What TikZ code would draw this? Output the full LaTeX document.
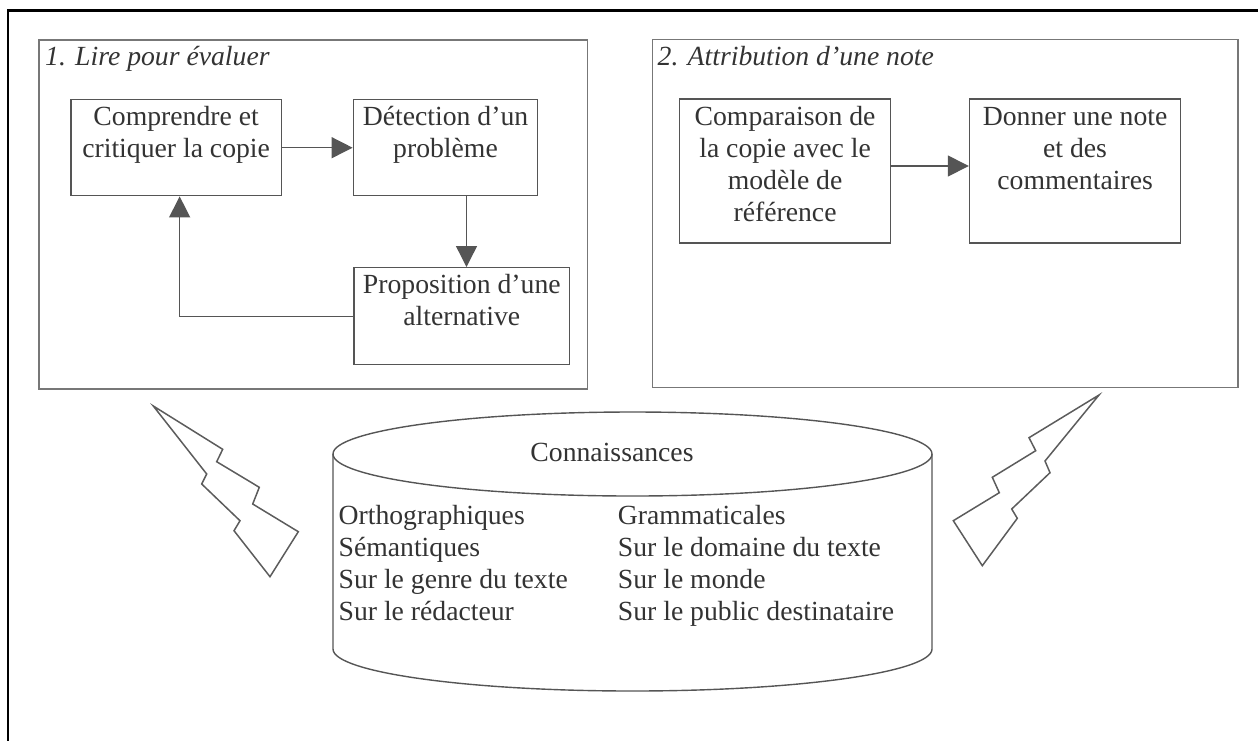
\documentclass[tikz,border=0pt]{standalone}
\usepackage{fontspec}
\setmainfont{Liberation Serif}
\usetikzlibrary{arrows.meta}
\definecolor{ink}{HTML}{333333}
\definecolor{boxline}{HTML}{555555}
\definecolor{panelline}{HTML}{777777}
\definecolor{boltline}{HTML}{5C5C5C}
% box content: width, height (pt), lines set from the top
\newcommand\stepcontent[3]{\parbox[t][#2pt][t]{#1pt}{\centering\rule{0pt}{26pt}#3}}

\begin{document}
\begin{tikzpicture}[x=1pt,y=-1pt,
  txt/.style={font=\fontsize{27.7pt}{32pt}\selectfont, text=ink},
  paneltitle/.style={font=\fontsize{27.7pt}{32pt}\selectfont\itshape, text=ink, anchor=base west, inner sep=0pt},
  panelframe/.style={draw=panelline, line width=1.4pt, inner sep=0pt, anchor=north west},
  stepbox/.style={txt, draw=boxline, line width=1.4pt, inner sep=0pt, anchor=north west},
  flow/.style={draw=boxline, line width=1.4pt, -{Triangle[length=21pt,width=21pt]}},
  cyl/.style={draw=boxline, line width=1.4pt},
  bolt/.style={draw=boltline, line width=1.5pt, line join=miter}]

\useasboundingbox (0,0) rectangle (1258,740);

% page frame
\draw[line width=2.7pt, line join=miter] (8,745) -- (8,10.3) -- (1265,10.3);

% panel 1
\node[panelframe, minimum width=548.4pt, minimum height=349pt] (lire) at (38.4,39.3) {};
\node[paneltitle] (lireT) at (45,65.5) {1. Lire pour évaluer};
\node[stepbox] (compr) at (70.2,99) {\stepcontent{210.5}{96}{Comprendre et\\critiquer la copie}};
\node[stepbox] (detect) at (352.6,99) {\stepcontent{184.4}{96}{Détection d’un\\problème}};
\node[stepbox] (propo) at (353.4,267) {\stepcontent{215.4}{97}{Proposition d’une\\alternative}};
\coordinate (bcx) at (466.5,0);

\draw[flow] (compr.east) -- (detect.west);
\draw[flow] (detect.south -| bcx) -- (propo.north -| bcx);
\draw[flow] (propo.west) -| ([xshift=3.5pt]compr.south);

% panel 2
\node[panelframe, minimum width=585.6pt, minimum height=348pt] (note) at (651.7,39) {};
\node[paneltitle] (noteT) at (657.5,65.5) {2. Attribution d’une note};
\node[stepbox] (compar) at (678.9,98.3) {\stepcontent{210.9}{144}{Comparaison de\\la copie avec le\\modèle de\\référence}};
\node[stepbox] (donner) at (968.8,98.3) {\stepcontent{211.2}{144}{Donner une note\\et des\\commentaires}};

\draw[flow] ([yshift=5pt]compar.east) -- ([yshift=5pt]donner.west);

% knowledge store
\coordinate (kb) at (632.5,454);
\draw[cyl] (333,454) -- (333,649) arc[start angle=180, end angle=360, x radius=299.5pt, y radius=42pt] -- (932,454);
\draw[cyl] (kb) ellipse[x radius=299.5pt, y radius=42pt];
\node[txt, anchor=base, inner sep=0pt] (kbT) at (612,461) {Connaissances};
\node[txt, anchor=base west, inner sep=0pt] (kbL) at (338.4,524)
  {\begin{tabular}[t]{@{}l@{}}Orthographiques\\Sémantiques\\Sur le genre du texte\\Sur le rédacteur\end{tabular}};
\node[txt, anchor=base west, inner sep=0pt] (kbR) at (617.7,524)
  {\begin{tabular}[t]{@{}l@{}}Grammaticales\\Sur le domaine du texte\\Sur le monde\\Sur le public destinataire\end{tabular}};

% lightning bolts
\draw[bolt] (153.3,406) -- (222.7,449.3) -- (216.7,461.7) -- (259.3,487.3) -- (252.7,504)
  -- (298.3,531.7) -- (270,576.7) -- (234,530.7) -- (240,520.7) -- (201.7,484) -- (206.7,474) -- cycle;
\draw[bolt] (1099,395) -- (1029,437.7) -- (1035.7,450.7) -- (992.3,477.3) -- (999.3,492.7)
  -- (953.3,520.7) -- (982.3,565.7) -- (1017.3,518.3) -- (1011.7,509) -- (1050,472.7) -- (1045,461) -- cycle;

\end{tikzpicture}
\end{document}
